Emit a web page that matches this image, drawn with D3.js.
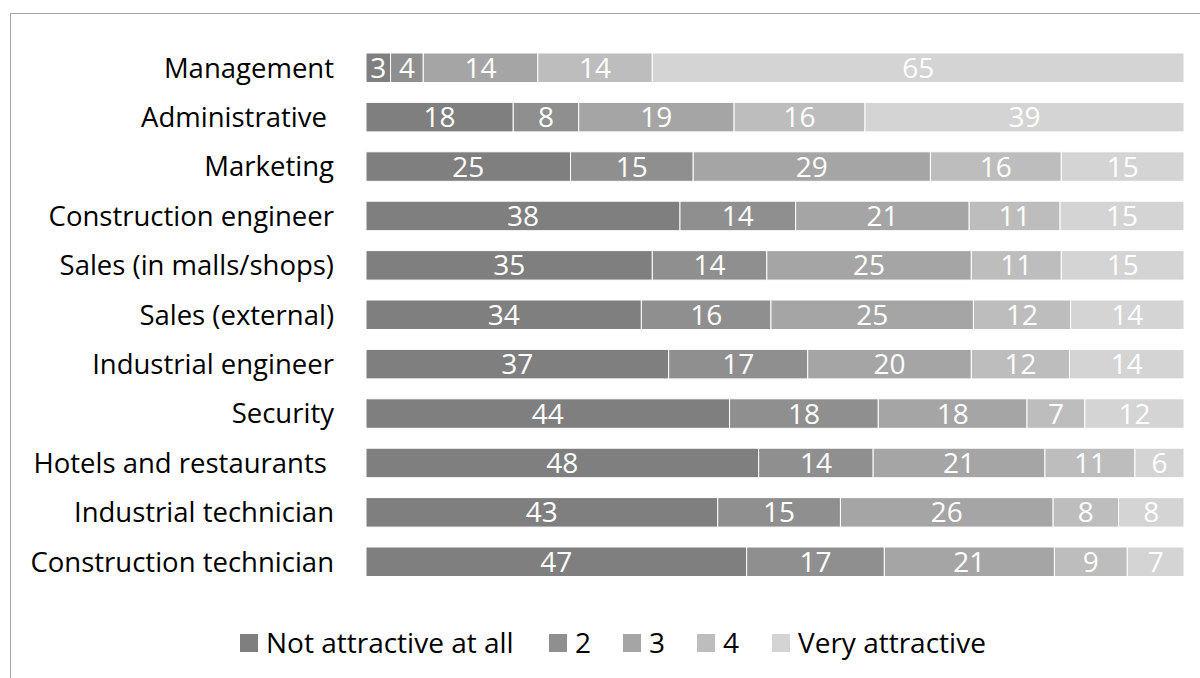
<!DOCTYPE html>
<html>
<head>
<meta charset="utf-8">
<script src="https://cdn.jsdelivr.net/npm/d3@7"></script>
<style>
  body { margin: 0; background: #fff; }
  text { font-family: "Open Sans", sans-serif; white-space: pre; }
</style>
</head>
<body>
<div id="chart"></div>
<script>
// jobs, top to bottom
const jobs = ["Management", "Administrative ", "Marketing", "Construction engineer",
  "Sales (in malls/shops)", "Sales (external)", "Industrial engineer", "Security",
  "Hotels and restaurants ", "Industrial technician", "Construction technician"];

const levels = ["Not attractive at all", "2", "3", "4", "Very attractive"];

// percent per level, same order as jobs
const notAttractive = [3, 18, 25, 38, 35, 34, 37, 44, 48, 43, 47];
const level2 = [4, 8, 15, 14, 14, 16, 17, 18, 14, 15, 17];
const level3 = [14, 19, 29, 21, 25, 25, 20, 18, 21, 26, 21];
const level4 = [14, 16, 16, 11, 11, 12, 12, 7, 11, 8, 9];
const veryAttractive = [65, 39, 15, 15, 15, 14, 14, 12, 6, 8, 7];

const colors = ["#7f7f7f", "#8f8f8f", "#a5a5a5", "#bdbdbd", "#d4d4d4"];

const W = 1200, H = 678;
const svg = d3.select("#chart").append("svg")
  .attr("width", W).attr("height", H);

// chart frame
svg.append("rect")
  .attr("x", 10.5).attr("y", 13.5)
  .attr("width", W).attr("height", H)
  .attr("fill", "none").attr("stroke", "#a6a6a6");

const series = [notAttractive, level2, level3, level4, veryAttractive];
const rows = jobs.map((j, i) => {
  const vals = series.map(s => s[i]);
  const total = d3.sum(vals);
  let acc = 0;
  return vals.map((v, k) => {
    const seg = {job: j, level: k, value: v, x0: acc / total, x1: (acc + v) / total};
    acc += v;
    return seg;
  });
});

const x = d3.scaleLinear().domain([0, 1]).range([366, 1184]);
const y = d3.scaleBand().domain(jobs).range([53, 576.5]).paddingInner(0.403).paddingOuter(0);

// category labels
svg.append("g").selectAll("text")
  .data(jobs)
  .join("text")
    .attr("x", 334)
    .attr("y", d => y(d) + y.bandwidth() / 2)
    .attr("dy", "0.36em")
    .attr("text-anchor", "end")
    .attr("font-size", 27.5)
    .attr("fill", "#000")
    .text(d => d);

const rowG = svg.append("g").selectAll("g")
  .data(rows)
  .join("g");

rowG.selectAll("rect")
  .data(d => d)
  .join("rect")
    .attr("x", d => x(d.x0))
    .attr("y", d => y(d.job))
    .attr("width", d => x(d.x1) - x(d.x0))
    .attr("height", y.bandwidth())
    .attr("fill", d => colors[d.level])
    .attr("stroke", "#fff")
    .attr("stroke-width", 1);

rowG.selectAll("text")
  .data(d => d)
  .join("text")
    .attr("x", d => (x(d.x0) + x(d.x1)) / 2)
    .attr("y", d => y(d.job) + y.bandwidth() / 2)
    .attr("dy", "0.36em")
    .attr("text-anchor", "middle")
    .attr("font-size", 28)
    .attr("fill", "#fff")
    .text(d => d.value);

// legend
const legendX = [240, 549, 623, 697, 772];
const legend = svg.append("g").selectAll("g")
  .data(levels)
  .join("g")
    .attr("transform", (d, i) => `translate(${legendX[i]},643)`);

legend.append("rect")
  .attr("x", 0).attr("y", -9)
  .attr("width", 18).attr("height", 18)
  .attr("fill", (d, i) => colors[i]);

legend.append("text")
  .attr("x", 26)
  .attr("dy", "0.36em")
  .attr("font-size", 28)
  .attr("fill", "#000")
  .text(d => d);
</script>
</body>
</html>
